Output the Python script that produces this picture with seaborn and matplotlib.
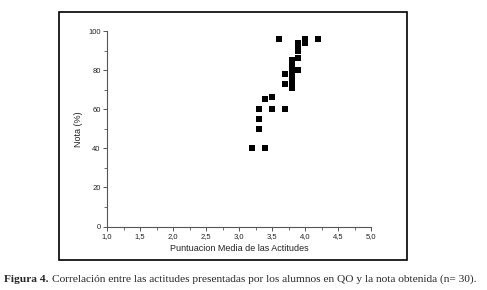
import pandas as pd
import numpy as np
import matplotlib
matplotlib.use("Agg")
import matplotlib.pyplot as plt
from matplotlib.patches import Rectangle
from matplotlib.ticker import MultipleLocator, FuncFormatter
import seaborn as sns

# Datos
actitudes = [3.6, 4.0, 4.0, 4.2, 3.9, 3.9, 3.9, 3.9, 3.9,
             3.8, 3.8, 3.8, 3.8, 3.8, 3.8, 3.8,
             3.7, 3.7, 3.7, 3.5, 3.5, 3.4, 3.4, 3.3, 3.3, 3.3, 3.2]
notas = [96, 96, 94, 96, 94, 92, 90, 86, 80,
         85, 82, 80, 77, 75, 73, 71,
         78, 73, 60, 66, 60, 65, 40, 60, 55, 50, 40]

df = pd.DataFrame({"actitud": actitudes, "nota": notas})

sns.set_style("ticks")
plt.rcParams["font.family"] = ["Liberation Sans", "DejaVu Sans"]

fig = plt.figure(figsize=(4.87, 2.90), dpi=100)
W, H = 487, 290
ax = fig.add_axes([107 / W, (H - 226.5) / H, (371 - 107) / W, (226.5 - 31) / H])

sns.scatterplot(data=df, x="actitud", y="nota", marker="s", color="black",
                s=16, linewidth=0, ax=ax)

ax.set_xlim(1.0, 5.0)
ax.set_ylim(0, 100)
ax.xaxis.set_major_locator(MultipleLocator(0.5))
ax.xaxis.set_minor_locator(MultipleLocator(0.25))
ax.yaxis.set_major_locator(MultipleLocator(20))
ax.yaxis.set_minor_locator(MultipleLocator(10))
ax.xaxis.set_major_formatter(FuncFormatter(lambda v, p: f"{v:.1f}".replace(".", ",")))
ax.yaxis.set_major_formatter(FuncFormatter(lambda v, p: f"{v:.0f}"))

sns.despine(ax=ax)
for s in ["left", "bottom"]:
    ax.spines[s].set_color("#555555")
    ax.spines[s].set_linewidth(0.8)
ax.tick_params(which="major", length=3, width=0.7, color="#555555",
               labelsize=5.5, labelcolor="#222222", pad=1.5)
ax.tick_params(which="minor", length=2, width=0.6, color="#555555")

ax.set_xlabel("Puntuacion Media de las Actitudes", fontsize=6.5, color="#222222", labelpad=3)
ax.set_ylabel("Nota (%)", fontsize=6.5, color="#222222", labelpad=4)

# Marco alrededor de la figura
fig.patches.append(Rectangle((59 / W, (H - 260) / H), (407 - 59) / W, (260 - 12) / H,
                             transform=fig.transFigure, fill=False,
                             edgecolor="black", linewidth=1.2))

# Pie de figura
serif = ["Liberation Serif", "DejaVu Serif"]
t1 = fig.text(4 / W, (H - 279) / H, "Figura 4.", family=serif, fontsize=8.2,
              fontweight="bold", va="center", ha="left")
fig.canvas.draw()
bb = t1.get_window_extent()
fig.text((bb.x1 + 3) / W, (H - 279) / H,
         "Correlación entre las actitudes presentadas por los alumnos en QO y la nota obtenida (n= 30).",
         family=serif, fontsize=8.2, va="center", ha="left")

fig.savefig("out.png", dpi=100)
